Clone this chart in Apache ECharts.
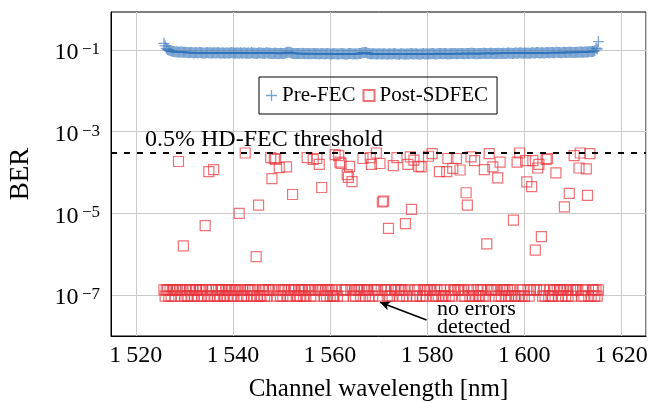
<!DOCTYPE html>
<html>
<head>
<meta charset="utf-8">
<script src="https://cdn.jsdelivr.net/npm/echarts@6/dist/echarts.min.js"></script>
<style>
  html, body { margin: 0; padding: 0; background: #fff; }
  #chart { width: 661px; height: 404px; }
</style>
</head>
<body>
<div id="chart"></div>
<script>
// measured channels [nm], 5 nm per row
const wavelengths = [
  1525.80, 1526.05, 1526.30, 1526.55, 1526.80, 1527.05, 1527.30, 1527.55, 1527.80, 1528.05, 1528.30, 1528.55, 1528.80, 1529.05, 1529.30, 1529.55, 1529.80, 1530.05, 1530.30, 1530.55,
  1530.80, 1531.05, 1531.30, 1531.55, 1531.80, 1532.05, 1532.30, 1532.55, 1532.80, 1533.05, 1533.30, 1533.55, 1533.80, 1534.05, 1534.30, 1534.55, 1534.80, 1535.05, 1535.30, 1535.55,
  1535.80, 1536.05, 1536.30, 1536.55, 1536.80, 1537.05, 1537.30, 1537.55, 1537.80, 1538.05, 1538.30, 1538.55, 1538.80, 1539.05, 1539.30, 1539.55, 1539.80, 1540.05, 1540.30, 1540.55,
  1540.80, 1541.05, 1541.30, 1541.55, 1541.80, 1542.05, 1542.30, 1542.55, 1542.80, 1543.05, 1543.30, 1543.55, 1543.80, 1544.05, 1544.30, 1544.55, 1544.80, 1545.05, 1545.30, 1545.55,
  1545.80, 1546.05, 1546.30, 1546.55, 1546.80, 1547.05, 1547.30, 1547.55, 1547.80, 1548.05, 1548.30, 1548.55, 1548.80, 1549.05, 1549.30, 1549.55, 1549.80, 1550.05, 1550.30, 1550.55,
  1550.80, 1551.05, 1551.30, 1551.55, 1551.80, 1552.05, 1552.30, 1552.55, 1552.80, 1553.05, 1553.30, 1553.55, 1553.80, 1554.05, 1554.30, 1554.55, 1554.80, 1555.05, 1555.30, 1555.55,
  1555.80, 1556.05, 1556.30, 1556.55, 1556.80, 1557.05, 1557.30, 1557.55, 1557.80, 1558.05, 1558.30, 1558.55, 1558.80, 1559.05, 1559.30, 1559.55, 1559.80, 1560.05, 1560.30, 1560.55,
  1560.80, 1561.05, 1561.30, 1561.55, 1561.80, 1562.05, 1562.30, 1562.55, 1562.80, 1563.05, 1563.30, 1563.55, 1563.80, 1564.05, 1564.30, 1564.55, 1564.80, 1565.05, 1565.30, 1565.55,
  1565.80, 1566.05, 1566.30, 1566.55, 1566.80, 1567.05, 1567.30, 1567.55, 1567.80, 1568.05, 1568.30, 1568.55, 1568.80, 1569.05, 1569.30, 1569.55, 1569.80, 1570.05, 1570.30, 1570.55,
  1570.80, 1571.05, 1571.30, 1571.55, 1571.80, 1572.05, 1572.30, 1572.55, 1572.80, 1573.05, 1573.30, 1573.55, 1573.80, 1574.05, 1574.30, 1574.55, 1574.80, 1575.05, 1575.30, 1575.55,
  1575.80, 1576.05, 1576.30, 1576.55, 1576.80, 1577.05, 1577.30, 1577.55, 1577.80, 1578.05, 1578.30, 1578.55, 1578.80, 1579.05, 1579.30, 1579.55, 1579.80, 1580.05, 1580.30, 1580.55,
  1580.80, 1581.05, 1581.30, 1581.55, 1581.80, 1582.05, 1582.30, 1582.55, 1582.80, 1583.05, 1583.30, 1583.55, 1583.80, 1584.05, 1584.30, 1584.55, 1584.80, 1585.05, 1585.30, 1585.55,
  1585.80, 1586.05, 1586.30, 1586.55, 1586.80, 1587.05, 1587.30, 1587.55, 1587.80, 1588.05, 1588.30, 1588.55, 1588.80, 1589.05, 1589.30, 1589.55, 1589.80, 1590.05, 1590.30, 1590.55,
  1590.80, 1591.05, 1591.30, 1591.55, 1591.80, 1592.05, 1592.30, 1592.55, 1592.80, 1593.05, 1593.30, 1593.55, 1593.80, 1594.05, 1594.30, 1594.55, 1594.80, 1595.05, 1595.30, 1595.55,
  1595.80, 1596.05, 1596.30, 1596.55, 1596.80, 1597.05, 1597.30, 1597.55, 1597.80, 1598.05, 1598.30, 1598.55, 1598.80, 1599.05, 1599.30, 1599.55, 1599.80, 1600.05, 1600.30, 1600.55,
  1600.80, 1601.05, 1601.30, 1601.55, 1601.80, 1602.05, 1602.30, 1602.55, 1602.80, 1603.05, 1603.30, 1603.55, 1603.80, 1604.05, 1604.30, 1604.55, 1604.80, 1605.05, 1605.30, 1605.55,
  1605.80, 1606.05, 1606.30, 1606.55, 1606.80, 1607.05, 1607.30, 1607.55, 1607.80, 1608.05, 1608.30, 1608.55, 1608.80, 1609.05, 1609.30, 1609.55, 1609.80, 1610.05, 1610.30, 1610.55,
  1610.80, 1611.05, 1611.30, 1611.55, 1611.80, 1612.05, 1612.30, 1612.55, 1612.80, 1613.05, 1613.30, 1613.55, 1613.80, 1614.05, 1614.30, 1614.55, 1614.80, 1615.05, 1615.30
]

// pre-FEC BER, one per channel
const preFecBer = [
  0.145, 0.125, 0.108, 0.102, 0.100, 0.096, 0.094, 0.092, 0.091, 0.090, 0.090, 0.089, 0.089, 0.088, 0.090, 0.087, 0.088, 0.087, 0.087, 0.086,
  0.086, 0.085, 0.087, 0.086, 0.085, 0.084, 0.086, 0.085, 0.084, 0.086, 0.086, 0.084, 0.085, 0.083, 0.084, 0.085, 0.086, 0.084, 0.085, 0.084,
  0.084, 0.085, 0.085, 0.083, 0.086, 0.085, 0.084, 0.083, 0.085, 0.084, 0.083, 0.084, 0.085, 0.083, 0.084, 0.085, 0.086, 0.084, 0.084, 0.083,
  0.085, 0.084, 0.083, 0.085, 0.084, 0.083, 0.085, 0.084, 0.083, 0.084, 0.084, 0.082, 0.086, 0.084, 0.084, 0.083, 0.083, 0.082, 0.085, 0.084,
  0.084, 0.083, 0.083, 0.082, 0.085, 0.084, 0.084, 0.083, 0.083, 0.082, 0.082, 0.083, 0.084, 0.082, 0.082, 0.081, 0.083, 0.082, 0.081, 0.082,
  0.084, 0.086, 0.088, 0.087, 0.086, 0.084, 0.083, 0.082, 0.081, 0.082, 0.082, 0.081, 0.081, 0.080, 0.083, 0.081, 0.080, 0.081, 0.082, 0.080,
  0.081, 0.080, 0.080, 0.081, 0.082, 0.080, 0.081, 0.080, 0.079, 0.080, 0.081, 0.080, 0.080, 0.079, 0.082, 0.081, 0.080, 0.079, 0.079, 0.080,
  0.081, 0.080, 0.080, 0.079, 0.079, 0.080, 0.081, 0.080, 0.080, 0.079, 0.078, 0.079, 0.080, 0.081, 0.081, 0.080, 0.079, 0.080, 0.080, 0.079,
  0.080, 0.081, 0.082, 0.084, 0.085, 0.086, 0.087, 0.085, 0.083, 0.081, 0.080, 0.079, 0.081, 0.080, 0.080, 0.079, 0.079, 0.080, 0.080, 0.079,
  0.079, 0.080, 0.080, 0.079, 0.078, 0.079, 0.080, 0.079, 0.079, 0.080, 0.081, 0.079, 0.079, 0.078, 0.078, 0.080, 0.080, 0.079, 0.079, 0.078,
  0.080, 0.079, 0.079, 0.080, 0.081, 0.079, 0.079, 0.080, 0.080, 0.079, 0.078, 0.079, 0.079, 0.080, 0.081, 0.079, 0.080, 0.079, 0.079, 0.080,
  0.080, 0.081, 0.081, 0.079, 0.079, 0.080, 0.080, 0.082, 0.082, 0.080, 0.080, 0.081, 0.081, 0.080, 0.079, 0.080, 0.080, 0.081, 0.082, 0.081,
  0.081, 0.080, 0.080, 0.082, 0.082, 0.081, 0.081, 0.080, 0.080, 0.082, 0.082, 0.081, 0.081, 0.083, 0.083, 0.081, 0.081, 0.080, 0.080, 0.081,
  0.082, 0.081, 0.081, 0.083, 0.083, 0.082, 0.082, 0.081, 0.081, 0.083, 0.083, 0.082, 0.082, 0.081, 0.081, 0.083, 0.083, 0.082, 0.082, 0.083,
  0.083, 0.082, 0.082, 0.084, 0.084, 0.083, 0.083, 0.082, 0.082, 0.084, 0.084, 0.083, 0.083, 0.085, 0.085, 0.083, 0.083, 0.084, 0.084, 0.083,
  0.084, 0.083, 0.083, 0.085, 0.085, 0.084, 0.084, 0.086, 0.086, 0.084, 0.084, 0.085, 0.085, 0.084, 0.084, 0.086, 0.086, 0.085, 0.085, 0.086,
  0.086, 0.085, 0.085, 0.087, 0.087, 0.086, 0.086, 0.085, 0.085, 0.087, 0.087, 0.086, 0.086, 0.088, 0.088, 0.087, 0.087, 0.086, 0.086, 0.087,
  0.088, 0.087, 0.087, 0.089, 0.089, 0.088, 0.088, 0.090, 0.089, 0.089, 0.090, 0.091, 0.090, 0.091, 0.093, 0.095, 0.110, 0.105, 0.160
]

// level plotted when no post-FEC error was counted (two measurement lengths)
const H = 1.35e-7
const L = 0.95e-7
const noErrorFloor = [
  H, L, H, H, L, H, L, H, H, L, H, H, L, H, L, H, H, L, H, L,
  L, H, H, L, H, L, H, H, L, H, H, L, H, L, H, H, L, H, L, H,
  H, H, L, H, L, H, L, H, H, L, L, H, L, H, H, L, H, L, H, H,
  H, L, H, H, L, H, L, H, L, H, H, H, L, H, L, H, H, L, H, L,
  L, H, H, L, H, L, H, H, L, H, H, L, H, L, H, H, L, H, L, H,
  H, H, L, H, L, H, L, H, H, L, L, H, L, H, H, L, H, L, H, H,
  H, L, H, H, L, H, L, H, L, H, H, H, L, H, L, H, H, L, H, L,
  L, H, H, L, H, L, H, H, L, H, H, L, H, L, H, H, L, H, L, H,
  H, H, L, H, L, H, L, H, H, L, L, H, L, H, H, L, H, L, H, H,
  H, L, H, H, L, H, L, H, L, H, H, H, L, H, L, H, H, L, H, L,
  L, H, H, L, H, L, H, H, L, H, H, L, H, L, H, H, L, H, L, H,
  H, H, L, H, L, H, L, H, H, L, L, H, L, H, H, L, H, L, H, H,
  H, L, H, H, L, H, L, H, L, H, H, H, L, H, L, H, H, L, H, L,
  L, H, H, L, H, L, H, H, L, H, H, L, H, L, H, H, L, H, L, H,
  H, H, L, H, L, H, L, H, H, L, L, H, L, H, H, L, H, L, H, H,
  H, L, H, H, L, H, L, H, L, H, H, H, L, H, L, H, H, L, H, L,
  L, H, H, L, H, L, H, H, L, H, H, L, H, L, H, H, L, H, L, H,
  H, H, L, H, L, H, L, H, H, L, L, H, L, H, H, L, H, L, H
]

// channels where post-SDFEC errors were counted: [nm, BER]
const postSdfecErrors = [
  [1528.80, 1.86e-4], [1529.80, 1.6e-6], [1534.30, 5.0e-6], [1535.05, 1.05e-4],
  [1536.05, 1.18e-4], [1541.30, 1.0e-5], [1542.55, 3.0e-4], [1544.80, 8.7e-7],
  [1545.30, 1.6e-5], [1547.80, 2.3e-4], [1548.05, 7.1e-5], [1548.55, 2.2e-4],
  [1548.80, 2.1e-4], [1549.55, 1.32e-4], [1551.05, 1.38e-4], [1552.30, 2.9e-5],
  [1555.30, 2.3e-4], [1556.55, 2.1e-4], [1557.30, 2.2e-4], [1557.80, 1.58e-4],
  [1558.30, 4.3e-5], [1561.05, 2.75e-4], [1561.80, 2.6e-4], [1562.05, 1.8e-4],
  [1562.30, 1.66e-4], [1563.55, 8.9e-5], [1563.80, 7.6e-5], [1564.05, 1.41e-4],
  [1564.55, 6.0e-5], [1566.80, 2.2e-4], [1568.30, 2.3e-4], [1568.55, 1.58e-4],
  [1569.55, 3.0e-4], [1570.30, 1.66e-4], [1570.80, 1.9e-5], [1571.05, 2.0e-5],
  [1572.05, 4.3e-6], [1573.05, 1.48e-4], [1573.80, 2.3e-4], [1575.55, 5.6e-6],
  [1576.05, 1.58e-4], [1576.55, 2.4e-4], [1576.80, 1.26e-5], [1577.30, 2.0e-4],
  [1578.30, 1.41e-4], [1578.80, 1.38e-4], [1580.30, 2.5e-4], [1581.05, 2.9e-4],
  [1582.55, 1.05e-4], [1584.05, 1.05e-4], [1584.30, 2.2e-4], [1585.30, 1.26e-4],
  [1586.05, 2.2e-4], [1586.80, 1.15e-4], [1588.05, 3.2e-5], [1588.30, 1.6e-5],
  [1589.05, 2.4e-4], [1589.80, 1.95e-4], [1591.80, 1.17e-4], [1592.30, 1.8e-6],
  [1592.80, 2.9e-4], [1593.55, 1.38e-4], [1594.55, 7.4e-5], [1595.05, 1.8e-4],
  [1597.80, 6.8e-6], [1598.55, 1.8e-4], [1599.05, 3.0e-4], [1600.30, 1.95e-4],
  [1600.55, 5.9e-5], [1601.55, 4.5e-5], [1601.80, 1.95e-4], [1602.30, 1.26e-6],
  [1602.80, 1.29e-4], [1603.05, 1.58e-4], [1603.55, 2.7e-6], [1604.55, 2.1e-4],
  [1604.80, 2.2e-4], [1606.55, 9.8e-5], [1608.30, 1.45e-5], [1609.30, 3.1e-5],
  [1610.30, 2.6e-4], [1611.30, 1.29e-4], [1611.55, 3.0e-4], [1612.80, 1.23e-4],
  [1613.05, 2.75e-5], [1613.55, 2.9e-4]
]

const thresholdBer = 3.1e-4
const yTickExponents = [-7, -5, -3, -1]
const xRange = [1514.9, 1625.1]
// annotation arrow, in data units
const arrowFrom = [1579.9, 2.45e-8]
const arrowTo = [1570.3, 6.7e-8]

const FONT = '"Liberation Serif", "DejaVu Serif", serif'
const BLUE = 'rgba(50, 116, 186, 0.82)'
const RED = 'rgba(232, 48, 56, 0.85)'
const PLUS = 'path://M0,4.35H11V5.65H0Z M4.85,-0.5H6.15V10.5H4.85Z'

const errByWl = {}
postSdfecErrors.forEach(([w, b]) => { errByWl[w.toFixed(2)] = b })

const preData = wavelengths.map((w, i) => [w, preFecBer[i]])
const postData = wavelengths.map((w, i) => {
  const e = errByWl[w.toFixed(2)]
  return [w, e !== undefined ? e : noErrorFloor[i]]
})

const chart = echarts.init(document.getElementById('chart'))

const option = {
  animation: false,
  backgroundColor: '#fff',
  textStyle: { fontFamily: FONT },
  grid: {
    left: 111, right: 15, top: 12, bottom: 68,
    outerBoundsMode: 'none',
    containLabel: false,
    show: true, borderColor: '#000', borderWidth: 1,
  },
  legend: {
    left: 259, top: 77,
    padding: [6, 9, 6, 7],
    itemGap: 7,
    itemWidth: 11, itemHeight: 11,
    borderColor: '#000', borderWidth: 1,
    textStyle: { fontFamily: FONT, fontSize: 21, color: '#000', lineHeight: 25 },
    data: ['Pre-FEC', 'Post-SDFEC'],
  },
  xAxis: {
    type: 'value',
    min: xRange[0], max: xRange[1],
    name: 'Channel wavelength [nm]',
    nameLocation: 'middle',
    nameGap: 41,
    nameTextStyle: { fontFamily: FONT, fontSize: 25, color: '#000' },
    axisLine: { lineStyle: { color: '#000', width: 1 } },
    axisTick: { show: false },
    splitLine: { show: true, lineStyle: { color: '#cacaca', width: 1 } },
    axisLabel: {
      fontFamily: FONT, fontSize: 24, color: '#000', margin: 8,
      showMinLabel: false, showMaxLabel: false,
      formatter: (v) => {
        const s = String(v)
        return s[0] + '\u2009' + s.slice(1)
      },
    },
  },
  yAxis: {
    type: 'log',
    logBase: 10,
    min: 1e-8, max: 0.845,
    name: 'BER',
    nameLocation: 'middle',
    nameGap: 77,
    nameTextStyle: { fontFamily: FONT, fontSize: 27, color: '#000' },
    axisLine: { lineStyle: { color: '#000', width: 1 } },
    axisTick: { show: false },
    splitLine: { show: true, lineStyle: { color: ['rgba(0,0,0,0)', '#cacaca'], width: 1 } },
    axisLabel: {
      margin: 11,
      padding: [6, 0, 0, 0],
      formatter: (v) => {
        const lg = Math.log10(v)
        const e = Math.round(lg)
        if (Math.abs(lg - e) > 1e-6 || !yTickExponents.includes(e)) return ''
        return '{b|10}{s|\u2009\u2212' + (-e) + '}'
      },
      rich: {
        b: { fontFamily: FONT, fontSize: 24, color: '#000', lineHeight: 24 },
        s: { fontFamily: FONT, fontSize: 17, color: '#000', lineHeight: 11, verticalAlign: 'top' },
      },
    },
  },
  graphic: [
    {
      type: 'text', left: 145, top: 128, z: 10,
      style: { text: '0.5% HD-FEC threshold', font: '24px ' + FONT, fill: '#000' },
    },
    {
      type: 'text', left: 437, top: 298, z: 10,
      style: { text: 'no errors\ndetected', font: '22px ' + FONT, fill: '#000', lineHeight: 18 },
    },
  ],
  series: [
    {
      name: 'Pre-FEC',
      type: 'scatter',
      symbol: PLUS,
      symbolSize: 11,
      itemStyle: { color: BLUE },
      data: preData,
      z: 2,
    },
    {
      name: 'Post-SDFEC',
      type: 'scatter',
      symbol: 'rect',
      symbolSize: 10,
      itemStyle: { color: 'rgba(0,0,0,0)', borderColor: RED, borderWidth: 1.2 },
      data: postData,
      z: 3,
      markLine: {
        silent: true,
        symbol: ['none', 'none'],
        label: { show: false },
        data: [
          [
            { coord: [xRange[0], thresholdBer], lineStyle: { color: '#000', type: [6, 7], width: 2.2 } },
            { coord: [xRange[1], thresholdBer] },
          ],
          [
            { coord: arrowFrom, lineStyle: { color: '#000', type: 'solid', width: 1.6 } },
            { coord: arrowTo, symbol: 'arrow', symbolSize: [7, 10] },
          ],
        ],
      },
    },
  ],
}

chart.setOption(option)
</script>
</body>
</html>
